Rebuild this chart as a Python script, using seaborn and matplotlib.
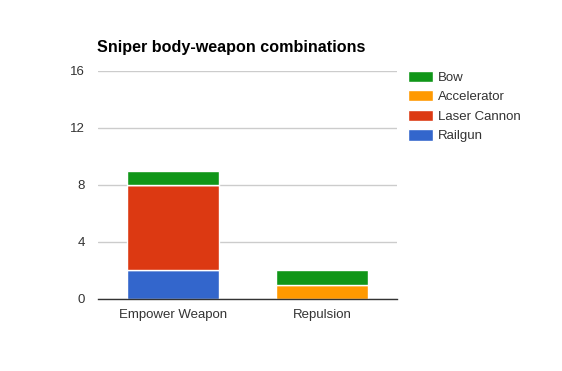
import matplotlib
matplotlib.use("Agg")
import matplotlib.pyplot as plt
import seaborn as sns
import pandas as pd
import numpy as np

categories = ["Empower Weapon", "Repulsion"]
series = ["Railgun", "Laser Cannon", "Accelerator", "Bow"]
railgun = [2, 0]
laser_cannon = [6, 0]
accelerator = [0, 1]
bow = [1, 1]
colors = ["#3366cc", "#dc3912", "#ff9900", "#109618"]
yticks = [0, 4, 8, 12, 16]

sns.set_style("white")
plt.rcParams["font.family"] = ["Liberation Sans", "DejaVu Sans"]

fig = plt.figure(figsize=(5.62, 3.71), dpi=100)
ax = fig.add_axes([0.1744, 0.1941, 0.532, 0.6146])

values = [railgun, laser_cannon, accelerator, bow]
bottom = np.zeros(len(categories))
for name, vals, col in zip(series, values, colors):
    df = pd.DataFrame({"cat": categories, "val": vals})
    sns.barplot(data=df, x="cat", y="val", color=col, saturation=1, bottom=bottom,
                width=0.615, edgecolor="white", linewidth=1, ax=ax, label=name, zorder=3)
    bottom = bottom + np.array(vals)

ax.set_xlim(-0.5, 1.5)
ax.set_ylim(0, 16)
ax.set_yticks(yticks)
ax.set_yticklabels([str(t) for t in yticks])
ax.grid(axis="y", color="#cccccc", linewidth=1, zorder=0)
ax.set_axisbelow(True)
for s in ["top", "right", "left"]:
    ax.spines[s].set_visible(False)
ax.spines["bottom"].set_color("#333333")
ax.spines["bottom"].set_linewidth(1)
ax.spines["bottom"].set_zorder(5)
ax.tick_params(axis="both", length=0, labelsize=9.5, colors="#333333")
ax.tick_params(axis="y", pad=9.5)
ax.tick_params(axis="x", pad=7)
ax.set_xlabel("")
ax.set_ylabel("")

ax.text(-0.004, 1.07, "Sniper body-weapon combinations", transform=ax.transAxes,
        fontsize=11.6, fontweight="bold", color="#000000", ha="left", va="bottom")

h, l = ax.get_legend_handles_labels()
leg = ax.legend(h[::-1], l[::-1], loc="upper left", bbox_to_anchor=(1.02, 1.025),
                frameon=False, fontsize=9.5, handlelength=1.85, handleheight=0.95,
                handletextpad=0.4, labelspacing=0.48, borderaxespad=0)
for t in leg.get_texts():
    t.set_color("#333333")

fig.savefig("out.png", dpi=100)
